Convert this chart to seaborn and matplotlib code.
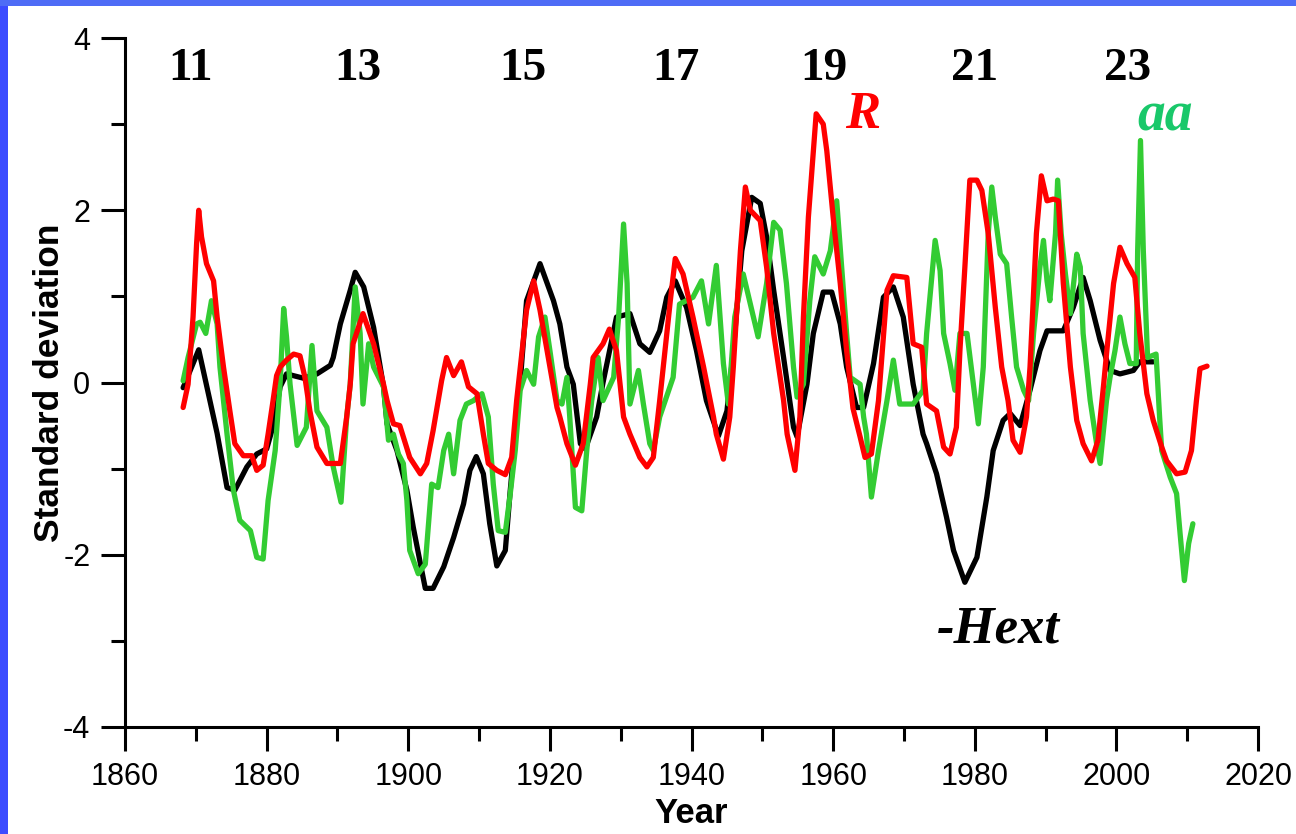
import matplotlib
matplotlib.use("Agg")
import matplotlib.pyplot as plt
from matplotlib.patches import Rectangle
from matplotlib.ticker import MultipleLocator
import seaborn as sns

# -Hext (black), R (red), aa (green): standardized series
hext_year = [1868.2, 1870.4, 1873.0, 1874.4, 1875.5, 1877.2, 1878.6, 1880.0, 1881.0, 1881.9,
             1882.8, 1885.2, 1887.1, 1889.0, 1889.4, 1890.4, 1891.8, 1892.5, 1893.7, 1895.1,
             1896.5, 1897.0, 1898.4, 1899.8, 1900.7, 1901.7, 1902.4, 1903.5, 1905.0, 1906.4,
             1907.8, 1908.7, 1909.6, 1910.6, 1911.5, 1912.5, 1913.7, 1914.4, 1915.8, 1916.7,
             1918.6, 1920.5, 1921.4, 1922.4, 1923.3, 1924.3, 1925.0, 1926.6, 1927.5, 1929.4,
             1931.3, 1932.7, 1934.1, 1935.5, 1936.5, 1937.7, 1939.3, 1940.7, 1942.1, 1943.8,
             1945.0, 1945.9, 1947.1, 1948.5, 1949.7, 1950.6, 1951.6, 1953.0, 1954.4, 1954.9,
             1956.3, 1957.2, 1958.6, 1959.8, 1961.0, 1961.9, 1963.3, 1964.3, 1965.7, 1967.1,
             1968.5, 1969.9, 1971.3, 1972.7, 1973.2, 1974.6, 1976.0, 1977.0, 1978.6, 1980.3,
             1981.7, 1982.6, 1984.0, 1985.0, 1986.4, 1987.8, 1989.2, 1990.2, 1992.5, 1993.9,
             1995.3, 1996.3, 1997.7, 1999.1, 2000.5, 2002.4, 2003.3, 2005.2]
hext_val = [-0.06, 0.38, -0.59, -1.22, -1.25, -0.98, -0.83, -0.77, -0.48, -0.05,
            0.10, 0.05, 0.10, 0.20, 0.29, 0.68, 1.07, 1.28, 1.11, 0.64,
            -0.05, -0.48, -0.79, -1.25, -1.68, -2.10, -2.39, -2.39, -2.14, -1.80,
            -1.41, -1.02, -0.86, -1.06, -1.64, -2.13, -1.95, -1.25, 0.00, 0.95,
            1.38, 0.95, 0.68, 0.18, -0.02, -0.71, -0.77, -0.40, 0.00, 0.76,
            0.80, 0.45, 0.35, 0.60, 0.99, 1.18, 0.87, 0.37, -0.21, -0.62,
            -0.33, 0.37, 1.53, 2.15, 2.08, 1.69, 1.07, 0.29, -0.52, -0.63,
            -0.02, 0.57, 1.05, 1.05, 0.68, 0.18, -0.29, -0.29, 0.22, 0.99,
            1.11, 0.76, -0.02, -0.60, -0.71, -1.06, -1.56, -1.95, -2.32, -2.03,
            -1.33, -0.79, -0.44, -0.36, -0.50, -0.09, 0.37, 0.60, 0.60, 0.87,
            1.22, 0.95, 0.49, 0.14, 0.10, 0.14, 0.24, 0.24]

r_year = [1868.2, 1868.9, 1869.6, 1870.1, 1870.4, 1870.8, 1871.5, 1872.5, 1873.0, 1873.9,
          1874.8, 1875.5, 1876.7, 1877.9, 1878.6, 1879.5, 1880.2, 1880.9, 1881.4, 1881.9,
          1882.8, 1883.8, 1884.7, 1885.4, 1886.1, 1887.1, 1888.5, 1890.4, 1891.3, 1891.8,
          1892.2, 1893.6, 1895.1, 1896.5, 1897.0, 1897.9, 1898.8, 1900.2, 1901.7, 1902.6,
          1903.5, 1904.7, 1905.4, 1906.4, 1907.5, 1908.5, 1909.7, 1910.6, 1911.3, 1912.5,
          1913.7, 1914.6, 1915.3, 1916.7, 1917.7, 1918.6, 1919.6, 1921.0, 1921.4, 1922.4,
          1923.6, 1924.7, 1925.7, 1926.1, 1927.5, 1928.4, 1929.4, 1930.4, 1931.3, 1932.7,
          1933.7, 1934.6, 1935.5, 1936.0, 1937.0, 1937.7, 1938.8, 1940.2, 1941.7, 1943.1,
          1943.5, 1944.5, 1945.4, 1945.9, 1946.9, 1947.6, 1948.3, 1949.7, 1950.6, 1951.6,
          1953.0, 1953.5, 1954.6, 1955.3, 1955.8, 1956.5, 1957.2, 1957.6, 1958.6, 1959.1,
          1960.0, 1961.0, 1961.9, 1962.8, 1963.8, 1964.5, 1965.4, 1966.4, 1966.8, 1967.6,
          1968.5, 1970.4, 1971.3, 1972.5, 1973.2, 1974.6, 1975.6, 1976.5, 1977.4, 1977.9,
          1978.6, 1979.3, 1980.3, 1981.0, 1981.9, 1982.9, 1983.8, 1984.7, 1985.4, 1986.4,
          1987.3, 1987.8, 1988.7, 1989.4, 1990.2, 1991.1, 1991.8, 1992.5, 1993.5, 1994.4,
          1995.3, 1996.5, 1997.4, 1998.2, 1998.6, 1999.6, 2000.5, 2001.5, 2002.6, 2003.3,
          2004.3, 2005.2, 2006.4, 2007.1, 2008.5, 2009.7, 2010.6, 2011.3, 2011.8, 2012.8]
r_val = [-0.29, -0.02, 0.76, 1.61, 2.00, 1.69, 1.38, 1.18, 0.76, 0.18,
         -0.33, -0.71, -0.85, -0.85, -1.02, -0.96, -0.60, -0.21, 0.08, 0.18,
         0.26, 0.33, 0.31, 0.06, -0.33, -0.75, -0.94, -0.94, -0.40, -0.02,
         0.45, 0.80, 0.45, -0.02, -0.21, -0.48, -0.50, -0.87, -1.06, -0.94,
         -0.56, 0.02, 0.29, 0.08, 0.24, -0.05, -0.13, -0.60, -0.94, -1.02,
         -1.07, -0.87, -0.21, 0.84, 1.18, 0.84, 0.37, -0.29, -0.40, -0.71,
         -0.96, -0.71, -0.02, 0.29, 0.45, 0.62, 0.37, -0.40, -0.60, -0.87,
         -0.98, -0.87, -0.21, 0.18, 0.95, 1.44, 1.26, 0.76, 0.18, -0.40,
         -0.60, -0.89, -0.40, 0.18, 1.53, 2.27, 2.00, 1.88, 1.34, 0.57,
         -0.21, -0.60, -1.02, -0.40, 0.76, 1.92, 2.69, 3.12, 3.00, 2.69,
         1.92, 1.15, 0.37, -0.30, -0.63, -0.87, -0.83, -0.21, 0.22, 1.07,
         1.24, 1.22, 0.45, 0.41, -0.25, -0.33, -0.75, -0.83, -0.52, 0.37,
         1.34, 2.35, 2.35, 2.23, 1.73, 0.87, 0.18, -0.21, -0.67, -0.81,
         -0.40, 0.18, 1.73, 2.40, 2.11, 2.13, 2.11, 1.15, 0.18, -0.44,
         -0.71, -0.91, -0.67, -0.02, 0.33, 1.15, 1.57, 1.38, 1.22, 0.57,
         -0.13, -0.44, -0.75, -0.91, -1.06, -1.04, -0.79, -0.21, 0.16, 0.19]

aa_year = [1868.2, 1868.9, 1870.1, 1870.6, 1871.4, 1872.2, 1873.0, 1873.4, 1874.4, 1875.3,
           1876.2, 1877.7, 1878.6, 1879.5, 1880.2, 1881.2, 1881.9, 1882.4, 1882.8, 1883.3,
           1884.3, 1885.6, 1886.4, 1887.1, 1888.5, 1889.4, 1890.5, 1891.3, 1891.8, 1892.5,
           1893.2, 1893.6, 1894.4, 1895.1, 1896.5, 1897.2, 1897.9, 1898.6, 1899.3, 1899.8,
           1900.2, 1901.4, 1902.4, 1903.3, 1904.2, 1905.0, 1905.7, 1906.4, 1907.3, 1908.2,
           1909.2, 1910.4, 1911.3, 1912.0, 1912.7, 1913.7, 1914.4, 1915.1, 1915.8, 1916.7,
           1917.7, 1918.4, 1919.3, 1920.0, 1921.0, 1921.7, 1922.4, 1922.8, 1923.6, 1924.5,
           1925.2, 1925.9, 1926.8, 1927.5, 1929.0, 1929.7, 1930.4, 1930.9, 1931.3, 1932.5,
           1933.2, 1934.1, 1934.6, 1935.5, 1937.4, 1938.3, 1940.2, 1941.4, 1942.4, 1943.5,
           1944.5, 1945.2, 1946.1, 1947.3, 1948.5, 1949.4, 1950.6, 1951.6, 1952.5, 1953.4,
           1954.4, 1954.9, 1955.8, 1956.7, 1957.4, 1958.6, 1959.6, 1960.5, 1961.2, 1961.9,
           1962.4, 1963.8, 1964.3, 1964.7, 1965.4, 1966.4, 1967.6, 1968.5, 1969.4, 1971.3,
           1972.7, 1973.2, 1974.4, 1975.1, 1975.6, 1976.5, 1977.2, 1977.9, 1978.9, 1979.8,
           1980.5, 1981.2, 1981.9, 1982.4, 1982.9, 1983.6, 1984.5, 1985.2, 1985.9, 1986.9,
           1987.6, 1988.3, 1989.2, 1989.7, 1990.2, 1990.6, 1991.4, 1991.7, 1992.2, 1992.8,
           1993.5, 1994.4, 1994.9, 1995.3, 1996.3, 1997.2, 1997.7, 1998.6, 1999.1, 1999.8,
           2000.5, 2001.2, 2001.9, 2002.8, 2003.0, 2003.4, 2003.8, 2004.4, 2005.6, 2006.1,
           2006.4, 2007.6, 2008.5, 2009.0, 2009.6, 2010.2, 2010.8]
aa_val = [0.02, 0.29, 0.68, 0.70, 0.57, 0.95, 0.68, 0.18, -0.60, -1.25,
          -1.60, -1.72, -2.03, -2.05, -1.37, -0.79, 0.00, 0.86, 0.53, -0.02,
          -0.73, -0.52, 0.43, -0.33, -0.52, -0.98, -1.39, -0.40, -0.02, 1.11,
          0.57, -0.25, 0.45, 0.18, -0.05, -0.67, -0.60, -0.83, -0.94, -1.37,
          -1.95, -2.22, -2.11, -1.18, -1.22, -0.79, -0.60, -1.06, -0.44, -0.25,
          -0.21, -0.13, -0.40, -1.18, -1.72, -1.74, -1.29, -0.79, -0.09, 0.14,
          -0.02, 0.53, 0.76, 0.37, -0.21, -0.25, 0.06, -0.40, -1.45, -1.49,
          -0.79, -0.21, 0.29, -0.21, 0.06, 0.76, 1.84, 1.15, -0.25, 0.14,
          -0.25, -0.71, -0.79, -0.40, 0.06, 0.91, 0.99, 1.18, 0.68, 1.36,
          0.22, -0.25, 0.76, 1.26, 0.84, 0.53, 1.15, 1.86, 1.77, 1.15,
          0.18, -0.17, -0.02, 0.95, 1.46, 1.26, 1.53, 2.11, 1.34, 0.57,
          0.06, -0.02, -0.40, -0.60, -1.33, -0.79, -0.21, 0.26, -0.25, -0.25,
          -0.09, 0.57, 1.65, 1.30, 0.57, 0.22, -0.09, 0.57, 0.57, -0.02,
          -0.48, 0.18, 1.73, 2.27, 1.92, 1.49, 1.38, 0.76, 0.18, -0.09,
          -0.21, 0.57, 1.34, 1.65, 1.18, 0.95, 1.73, 2.35, 1.73, 1.26,
          0.80, 1.49, 1.34, 0.57, -0.21, -0.71, -0.94, -0.21, 0.06, 0.37,
          0.76, 0.45, 0.22, 0.22, 1.53, 2.81, 1.53, 0.29, 0.33, -0.40,
          -0.79, -1.10, -1.29, -1.76, -2.30, -1.87, -1.64]

cycle_labels = ["11", "13", "15", "17", "19", "21", "23"]
cycle_x = [1869.2, 1892.8, 1916.2, 1937.8, 1958.7, 1980.0, 2001.6]

sns.set_style("ticks")
plt.rcParams['font.family'] = ['Liberation Sans', 'DejaVu Sans']
plt.rcParams['axes.unicode_minus'] = False
plt.rcParams['text.color'] = 'black'
plt.rcParams['axes.labelcolor'] = 'black'
serif = ['Liberation Serif', 'DejaVu Serif']

fig = plt.figure(figsize=(12.96, 8.34), dpi=100)
ax = fig.add_axes([0.0965, 0.1283, 0.8742, 0.8261])

sns.lineplot(x=hext_year, y=hext_val, color='black', lw=3.8, sort=False, estimator=None, ax=ax)
sns.lineplot(x=aa_year, y=aa_val, color='#33cc33', lw=3.8, sort=False, estimator=None, ax=ax)
sns.lineplot(x=r_year, y=r_val, color='#ff0000', lw=3.8, sort=False, estimator=None, ax=ax)

ax.set_xlim(1860, 2020)
ax.set_ylim(-4, 4)
ax.xaxis.set_major_locator(MultipleLocator(20))
ax.xaxis.set_minor_locator(MultipleLocator(10))
ax.yaxis.set_major_locator(MultipleLocator(2))
ax.yaxis.set_minor_locator(MultipleLocator(1))

for s in ['top', 'right']:
    ax.spines[s].set_visible(False)
for s in ['left', 'bottom']:
    ax.spines[s].set_linewidth(2.2)
    ax.spines[s].set_color('black')

ax.tick_params(which='major', length=17, width=2.2, direction='out', labelsize=22, pad=8,
               color='black', labelcolor='black')
ax.tick_params(which='minor', length=10, width=2.2, direction='out', color='black')

ax.set_xlabel('Year', fontsize=25, fontweight='bold', labelpad=4)
ax.set_ylabel('Standard deviation', fontsize=25.5, fontweight='bold', labelpad=-2)

for lab, x in zip(cycle_labels, cycle_x):
    ax.text(x, 3.51, lab, ha='center', va='baseline', fontsize=34,
            fontweight='bold', family=serif, color='black')

ax.text(1964.2, 2.95, 'R', color='#ff0000', ha='center', va='baseline', fontsize=38,
        fontweight='bold', fontstyle='italic', family=serif)
ax.text(2006.9, 2.93, 'aa', color='#19c86a', ha='center', va='baseline', fontsize=40,
        fontweight='bold', fontstyle='italic', family=serif)
ax.text(1983.4, -3.02, '-Hext', color='black', ha='center', va='baseline', fontsize=38,
        fontweight='bold', fontstyle='italic', family=serif)

# slide frame
fig.add_artist(Rectangle((0, 0), 8 / 1296, 1, transform=fig.transFigure, color='#3c4cff', lw=0))
fig.add_artist(Rectangle((0, 1 - 6 / 834), 1, 6 / 834, transform=fig.transFigure, color='#4e6cf6', lw=0))

fig.savefig('out.png', dpi=100)
